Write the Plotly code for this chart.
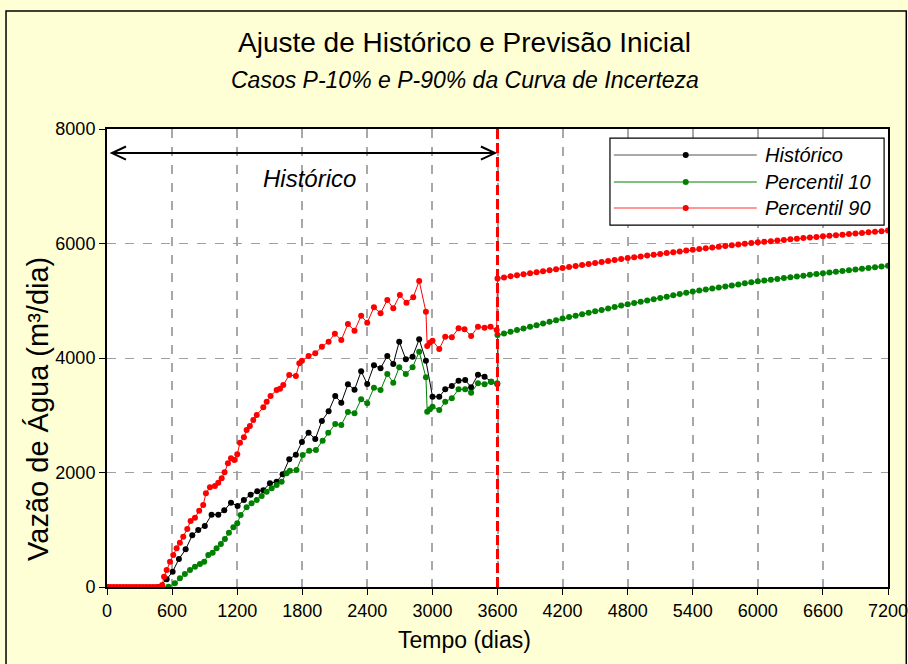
import plotly.graph_objects as go

# Histórico (observado)
hist_t = [0, 480, 550, 605, 663, 725, 786, 841, 902, 964, 1026, 1081, 1143, 1204, 1262, 1324, 1385, 1441,
          1502, 1564, 1619, 1680, 1741, 1797, 1858, 1920, 1981, 2043, 2104, 2160, 2221, 2282, 2343, 2399,
          2461, 2522, 2584, 2639, 2694, 2755, 2817, 2878, 2940, 3001, 3063, 3118, 3179, 3241, 3302, 3357,
          3420, 3481, 3542, 3598]
hist_v = [0, 0, 134, 268, 489, 658, 903, 996, 1066, 1263, 1263, 1340, 1473, 1415, 1520, 1613, 1671, 1690,
          1811, 1840, 1968, 2230, 2311, 2533, 2696, 2585, 2900, 3069, 3336, 3220, 3540, 3447, 3768, 3546,
          3872, 3820, 4035, 3895, 4285, 3977, 4023, 4326, 3953, 3324, 3324, 3453, 3511, 3604, 3616, 3488,
          3709, 3674, 3587, 3546]

# Percentil 10 - periodo historico
p10_t = [0, 500, 567, 626, 672, 718, 765, 811, 857, 896, 934, 974, 1010, 1050, 1087, 1124, 1165, 1201,
         1232, 1287, 1333, 1380, 1426, 1472, 1518, 1564, 1610, 1656, 1686, 1747, 1804, 1864, 1926, 1988,
         2040, 2104, 2160, 2221, 2282, 2343, 2399, 2461, 2522, 2584, 2639, 2694, 2755, 2817, 2878, 2940,
         2952, 2977, 3001, 3063, 3118, 3179, 3241, 3302, 3357, 3420, 3481, 3542, 3598]
p10_v = [0, 0, 5, 64, 152, 227, 297, 355, 402, 442, 559, 600, 676, 751, 838, 949, 1042, 1113,
         1258, 1392, 1462, 1520, 1590, 1665, 1724, 1782, 1840, 1986, 2032, 2044, 2306, 2381, 2393, 2556,
         2696, 2847, 2830, 3057, 3034, 3279, 3209, 3482, 3441, 3721, 3569, 3837, 3721, 3837, 4111, 3663,
         3063, 3104, 3150, 3092, 3237, 3296, 3453, 3453, 3394, 3558, 3541, 3587, 3558]

# Percentil 90 - periodo historico
p90_t = [0, 30, 60, 90, 120, 150, 180, 210, 240, 270, 300, 330, 360, 390, 420, 450, 480,
         509, 526, 550, 581, 611, 642, 672, 703, 740, 771, 811, 850, 887, 912, 949, 995, 1026, 1057,
         1084, 1115, 1143, 1174, 1201, 1226, 1262, 1287, 1317, 1349, 1380, 1441, 1472, 1508, 1564, 1595,
         1625, 1680, 1741, 1773, 1797, 1858, 1920, 1981, 2043, 2101, 2160, 2221, 2282, 2343, 2399, 2461,
         2522, 2584, 2639, 2700, 2761, 2823, 2878, 2940, 2952, 2977, 3001, 3063, 3118, 3179, 3241, 3296,
         3357, 3420, 3481, 3536, 3592]
p90_v = [0, 0, 0, 0, 0, 0, 0, 0, 0, 0, 0, 0, 0, 0, 0, 0, 0,
         35, 180, 297, 442, 559, 676, 774, 879, 1013, 1153, 1211, 1333, 1432, 1637, 1741, 1764, 1822, 1898,
         2003, 2160, 2248, 2218, 2318, 2521, 2615, 2742, 2812, 2917, 3004, 3139, 3237, 3336, 3441, 3464,
         3528, 3703, 3686, 3907, 3953, 4035, 4082, 4198, 4285, 4425, 4314, 4594, 4477, 4739, 4617, 4885,
         4780, 5013, 4868, 5100, 4966, 5060, 5345, 4809, 4210, 4268, 4303, 4157, 4372, 4361, 4518, 4501,
         4384, 4547, 4530, 4547, 4489]

# Previsao (3600 a 7200 dias)
prev_t = [3600, 3660, 3720, 3780, 3840, 3900, 3960, 4020, 4080, 4140, 4200, 4260, 4320, 4380, 4440, 4500,
          4560, 4620, 4680, 4740, 4800, 4860, 4920, 4980, 5040, 5100, 5160, 5220, 5280, 5340, 5400, 5460,
          5520, 5580, 5640, 5700, 5760, 5820, 5880, 5940, 6000, 6060, 6120, 6180, 6240, 6300, 6360, 6420,
          6480, 6540, 6600, 6660, 6720, 6780, 6840, 6900, 6960, 7020, 7080, 7140, 7200]
p10_prev = [4400, 4429, 4458, 4487, 4516, 4545, 4574, 4603, 4632, 4661, 4690, 4715, 4740, 4765, 4790, 4815,
            4840, 4865, 4890, 4915, 4940, 4962, 4984, 5006, 5028, 5050, 5072, 5094, 5116, 5138, 5160, 5178,
            5196, 5214, 5232, 5250, 5268, 5286, 5304, 5322, 5340, 5354, 5368, 5382, 5396, 5410, 5424, 5438,
            5452, 5466, 5480, 5493, 5506, 5519, 5532, 5545, 5558, 5571, 5584, 5597, 5610]
p90_prev = [5390, 5408, 5426, 5444, 5462, 5480, 5498, 5516, 5534, 5552, 5570, 5588, 5605, 5623, 5640, 5658,
            5675, 5693, 5710, 5728, 5745, 5760, 5774, 5789, 5803, 5818, 5832, 5847, 5861, 5876, 5890, 5903,
            5916, 5929, 5942, 5955, 5968, 5981, 5994, 6007, 6020, 6031, 6041, 6052, 6062, 6073, 6083, 6094,
            6104, 6115, 6125, 6135, 6145, 6155, 6165, 6175, 6185, 6195, 6205, 6215, 6225]

series = [
    ("Histórico", hist_t, hist_v, "black", "#555555"),
    ("Percentil 10", p10_t + prev_t, p10_v + p10_prev, "#008000", "#008000"),
    ("Percentil 90", p90_t + prev_t, p90_v + p90_prev, "#ff0000", "#ff3030"),
]

SANS = "Liberation Sans, Arial, sans-serif"

fig = go.Figure()
for name, t, v, cor, _ in series:
    fig.add_trace(go.Scatter(x=t, y=v, mode="lines+markers", name=name,
                             line=dict(color=cor, width=1),
                             marker=dict(color=cor, size=6)))

shapes = []
# linha vertical do fim do historico
shapes.append(dict(type="line", xref="x", yref="paper", x0=3600, x1=3600, y0=0, y1=1,
                   line=dict(color="red", width=3, dash="10px,4px"), layer="above"))
# seta dupla "Historico"
shapes.append(dict(type="line", x0=46, x1=3576, y0=7580, y1=7580, line=dict(color="black", width=2)))
shapes.append(dict(type="path", path="M 175,7694 L 46,7580 L 175,7466", line=dict(color="black", width=2)))
shapes.append(dict(type="path", path="M 3447,7694 L 3576,7580 L 3447,7466", line=dict(color="black", width=2)))
# moldura externa
shapes.append(dict(type="rect", xref="paper", yref="paper", x0=-0.1293, x1=1.0234, y0=-0.2, y1=1.2576,
                   line=dict(color="black", width=1.5), layer="below"))

# legenda desenhada
lx0, lx1, ly0, ly1 = 0.644, 0.995, 0.790, 0.980
shapes.append(dict(type="rect", xref="paper", yref="paper", x0=lx0, x1=lx1, y0=ly0, y1=ly1,
                   line=dict(color="black", width=1.2), fillcolor="white"))
rows = [0.9432, 0.8843, 0.8275]
annotations = []
for (name, _, _, cor, lcor), yy in zip(series, rows):
    shapes.append(dict(type="line", xref="paper", yref="paper", x0=0.649, x1=0.832, y0=yy, y1=yy,
                       line=dict(color=lcor, width=1.2)))
    shapes.append(dict(type="circle", xref="paper", yref="paper", xsizemode="pixel", ysizemode="pixel",
                       xanchor=0.741, yanchor=yy, x0=-3, x1=3, y0=-3, y1=3,
                       line=dict(color=cor, width=0), fillcolor=cor))
    annotations.append(dict(xref="paper", yref="paper", x=0.840, y=yy, xanchor="left", yanchor="middle",
                            text="<i>%s</i>" % name, showarrow=False,
                            font=dict(family=SANS, size=20, color="black")))

annotations += [
    dict(xref="paper", yref="paper", x=0.458, y=1.188, xanchor="center", yanchor="middle",
         text="Ajuste de Histórico e Previsão Inicial",
         showarrow=False, font=dict(family=SANS, size=28, color="black")),
    dict(xref="paper", yref="paper", x=0.459, y=1.107, xanchor="center", yanchor="middle",
         text="<i>Casos P-10% e P-90% da Curva de Incerteza</i>",
         showarrow=False, font=dict(family=SANS, size=23, color="black")),
    dict(x=1870, y=7140, xanchor="center", yanchor="middle", text="<i>Histórico</i>", showarrow=False,
         font=dict(family=SANS, size=24, color="black")),
    dict(xref="paper", yref="paper", x=-0.0883, y=0.389, xanchor="center", yanchor="middle",
         text="Vazão de Água (m³/dia)", textangle=-90,
         showarrow=False, font=dict(family=SANS, size=29, color="black")),
    dict(xref="paper", yref="paper", x=0.458, y=-0.115, xanchor="center", yanchor="middle",
         text="Tempo (dias)", showarrow=False, font=dict(family=SANS, size=23, color="black")),
]

fig.update_layout(
    width=908, height=664,
    margin=dict(l=107, r=20, t=129, b=77, autoexpand=False),
    paper_bgcolor="#ffffd5", plot_bgcolor="white",
    showlegend=False,
    shapes=shapes, annotations=annotations,
    xaxis=dict(range=[0, 7200], dtick=600, tick0=0, showgrid=True, gridcolor="#a8a8a8", gridwidth=1.5,
               griddash="dash", showline=True, linecolor="black", linewidth=2, mirror=True,
               ticks="outside", ticklen=6, tickcolor="black", zeroline=False, ticklabeloverflow="allow",
               automargin=False, tickfont=dict(family=SANS, size=18, color="black")),
    yaxis=dict(range=[0, 8000], dtick=2000, tick0=0, showgrid=True, gridcolor="#a0a0a0", gridwidth=1.2,
               griddash="dash", showline=True, linecolor="black", linewidth=2, mirror=True,
               ticks="outside", ticklen=6, tickcolor="black", zeroline=False, automargin=False,
               tickfont=dict(family=SANS, size=18, color="black")),
)

fig.write_html("out.html", config={"displayModeBar": False},
               post_script="document.body.style.margin='0';")
